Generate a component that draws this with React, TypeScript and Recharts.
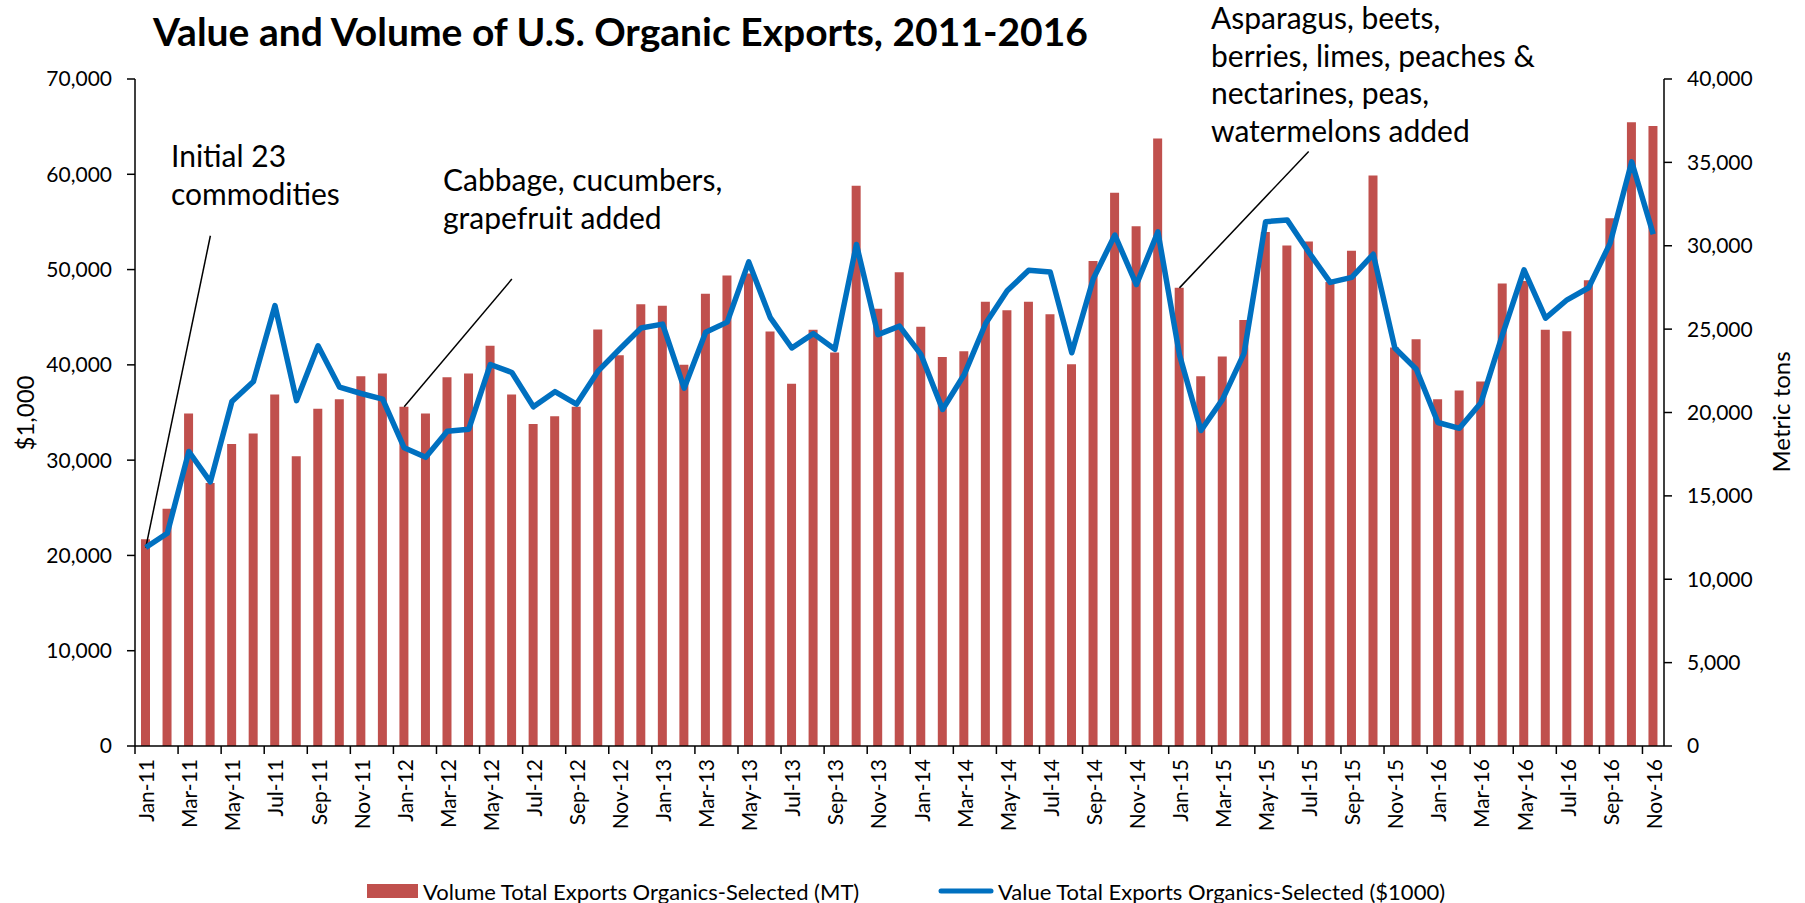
import React from "react";
import { ComposedChart, Bar, Line, XAxis, YAxis, ReferenceLine } from "recharts";

const months = [
  "Jan-11", "Feb-11", "Mar-11", "Apr-11", "May-11", "Jun-11", "Jul-11", "Aug-11", "Sep-11", "Oct-11", "Nov-11", "Dec-11",
  "Jan-12", "Feb-12", "Mar-12", "Apr-12", "May-12", "Jun-12", "Jul-12", "Aug-12", "Sep-12", "Oct-12", "Nov-12", "Dec-12",
  "Jan-13", "Feb-13", "Mar-13", "Apr-13", "May-13", "Jun-13", "Jul-13", "Aug-13", "Sep-13", "Oct-13", "Nov-13", "Dec-13",
  "Jan-14", "Feb-14", "Mar-14", "Apr-14", "May-14", "Jun-14", "Jul-14", "Aug-14", "Sep-14", "Oct-14", "Nov-14", "Dec-14",
  "Jan-15", "Feb-15", "Mar-15", "Apr-15", "May-15", "Jun-15", "Jul-15", "Aug-15", "Sep-15", "Oct-15", "Nov-15", "Dec-15",
  "Jan-16", "Feb-16", "Mar-16", "Apr-16", "May-16", "Jun-16", "Jul-16", "Aug-16", "Sep-16", "Oct-16", "Nov-16",
];

// bars, read against the left axis
const volumeMT = [
  21700, 24900, 34900, 27600, 31700, 32800, 36900, 30400, 35400, 36400, 38800, 39100,
  35600, 34900, 38700, 39100, 42000, 36900, 33800, 34600, 35600, 43700, 41000, 46350,
  46200, 40000, 47470, 49390, 49600, 43490, 38010, 43680, 41290, 58800, 45880, 49720,
  44010, 40820, 41430, 46630, 45740, 46630, 45320, 40070, 50890, 58050, 54540, 63760,
  48080, 38810, 40870, 44710, 53930, 52530, 52950, 48690, 51970, 59880, 41810, 42700,
  36380, 37310, 38250, 48550, 48800, 43680, 43540, 48880, 55380, 65450, 65070,
];

// line, read against the right axis
const value1000 = [
  11900, 12760, 17660, 15840, 20660, 21860, 26410, 20710, 24000, 21520, 21140, 20800,
  17880, 17310, 18870, 19000, 22880, 22400, 20340, 21250, 20500, 22480, 23790, 25070,
  25300, 21460, 24810, 25420, 29030, 25690, 23870, 24730, 23790, 30080, 24670, 25180,
  23470, 20180, 22260, 25340, 27300, 28530, 28420, 23580, 28020, 30640, 27670, 30830,
  23470, 18920, 20790, 23550, 31440, 31550, 29620, 27800, 28100, 29490, 23870, 22590,
  19400, 19050, 20580, 24670, 28550, 25660, 26760, 27480, 30160, 35030, 30690,
];

const leftTicks = [0, 10000, 20000, 30000, 40000, 50000, 60000, 70000];
const rightTicks = [0, 5000, 10000, 15000, 20000, 25000, 30000, 35000, 40000];

const data = months.map((m, i) => ({ month: m, volume: volumeMT[i], value: value1000[i] }));

const W = 1805;
const H = 903;
const PLOT = { left: 135, right: 1664, top: 79, bottom: 746 };
const FONT = "Lato, 'Open Sans', sans-serif";
const RED = "#C0504D";
const BLUE = "#0070C0";

const fmt = (v: number) => v.toLocaleString("en-US");

function MonthTick(props: any) {
  const { x, payload } = props;
  const band = (PLOT.right - PLOT.left) / months.length;
  const edge = x - band / 2;
  const ty = PLOT.bottom + 13;
  return (
    <g>
      <line x1={edge} x2={edge} y1={PLOT.bottom} y2={PLOT.bottom + 8} stroke="#000" strokeWidth={1.5} />
      <text
        x={x}
        y={ty}
        transform={`rotate(-90 ${x} ${ty})`}
        textAnchor="end"
        dominantBaseline="central"
        fontSize={21}
        fontFamily={FONT}
        fill="#000"
      >
        {payload.value}
      </text>
    </g>
  );
}

const callouts = [
  { lines: ["Initial 23", "commodities"], x: 171, y: 167 },
  { lines: ["Cabbage, cucumbers,", "grapefruit added"], x: 443, y: 191 },
  {
    lines: ["Asparagus, beets,", "berries, limes, peaches &", "nectarines, peas,", "watermelons added"],
    x: 1211,
    y: 29,
  },
];

export default function App() {
  const axisStroke = { stroke: "#000", strokeWidth: 1.5 };
  const tickStyle = { fill: "#000", fontSize: 21, fontFamily: FONT };
  return (
    <div style={{ position: "absolute", left: 0, top: 0, width: W, height: H, background: "#fff" }}>
      <ComposedChart
        width={W}
        height={H}
        data={data}
        margin={{ top: PLOT.top, left: PLOT.left - 100, right: W - PLOT.right - 100, bottom: H - PLOT.bottom - 80 }}
      >
        <XAxis
          dataKey="month"
          interval={1}
          height={80}
          tickLine={false}
          axisLine={axisStroke}
          tick={(p: any) => <MonthTick {...p} />}
        />
        <YAxis
          yAxisId="left"
          width={100}
          domain={[0, 70000]}
          ticks={leftTicks}
          interval={0}
          tickFormatter={fmt}
          tick={tickStyle}
          tickLine={axisStroke}
          tickSize={8}
          tickMargin={15}
          axisLine={axisStroke}
        />
        <YAxis
          yAxisId="right"
          orientation="right"
          width={100}
          domain={[0, 40000]}
          ticks={rightTicks}
          interval={0}
          tickFormatter={fmt}
          tick={tickStyle}
          tickLine={axisStroke}
          tickSize={8}
          tickMargin={15}
          axisLine={axisStroke}
        />
        <Bar yAxisId="left" dataKey="volume" fill={RED} barSize={9} isAnimationActive={false} />
        <ReferenceLine
          yAxisId="right"
          segment={[{ x: months[0], y: value1000[0] }, { x: "Apr-11", y: 30600 }]}
          stroke="#000"
          strokeWidth={1.5}
        />
        <ReferenceLine
          yAxisId="left"
          segment={[{ x: months[12], y: volumeMT[12] }, { x: "Jun-12", y: 49000 }]}
          stroke="#000"
          strokeWidth={1.5}
        />
        <ReferenceLine
          yAxisId="left"
          segment={[{ x: months[48], y: volumeMT[48] }, { x: "Jul-15", y: 62400 }]}
          stroke="#000"
          strokeWidth={1.5}
        />
        <Line
          yAxisId="right"
          dataKey="value"
          stroke={BLUE}
          strokeWidth={5.5}
          strokeLinejoin="round"
          dot={false}
          isAnimationActive={false}
        />
      </ComposedChart>

      <svg
        width={W}
        height={H}
        style={{ position: "absolute", left: 0, top: 0, pointerEvents: "none" }}
        fontFamily={FONT}
      >
        <text x={153} y={46} fontSize={39} fontWeight={700} fill="#000">
          Value and Volume of U.S. Organic Exports, 2011-2016
        </text>

        {callouts.map((c, i) => (
          <text key={i} x={c.x} y={c.y} fontSize={30} fill="#000">
            {c.lines.map((ln, j) => (
              <tspan key={j} x={c.x} dy={j === 0 ? 0 : 37.5}>
                {ln}
              </tspan>
            ))}
          </text>
        ))}

        <text x={24} y={413} fontSize={24} textAnchor="middle" dominantBaseline="central" transform="rotate(-90 24 413)">
          $1,000
        </text>
        <text x={1780} y={412} fontSize={24} textAnchor="middle" dominantBaseline="central" transform="rotate(-90 1780 412)">
          Metric tons
        </text>

        <rect x={367} y={884} width={51} height={14} fill={RED} />
        <text x={423} y={891} fontSize={22} dominantBaseline="central">
          Volume Total Exports Organics-Selected (MT)
        </text>
        <line x1={941} x2={991} y1={891} y2={891} stroke={BLUE} strokeWidth={5} strokeLinecap="round" />
        <text x={998} y={891} fontSize={22} dominantBaseline="central">
          Value Total Exports Organics-Selected ($1000)
        </text>
      </svg>
    </div>
  );
}
